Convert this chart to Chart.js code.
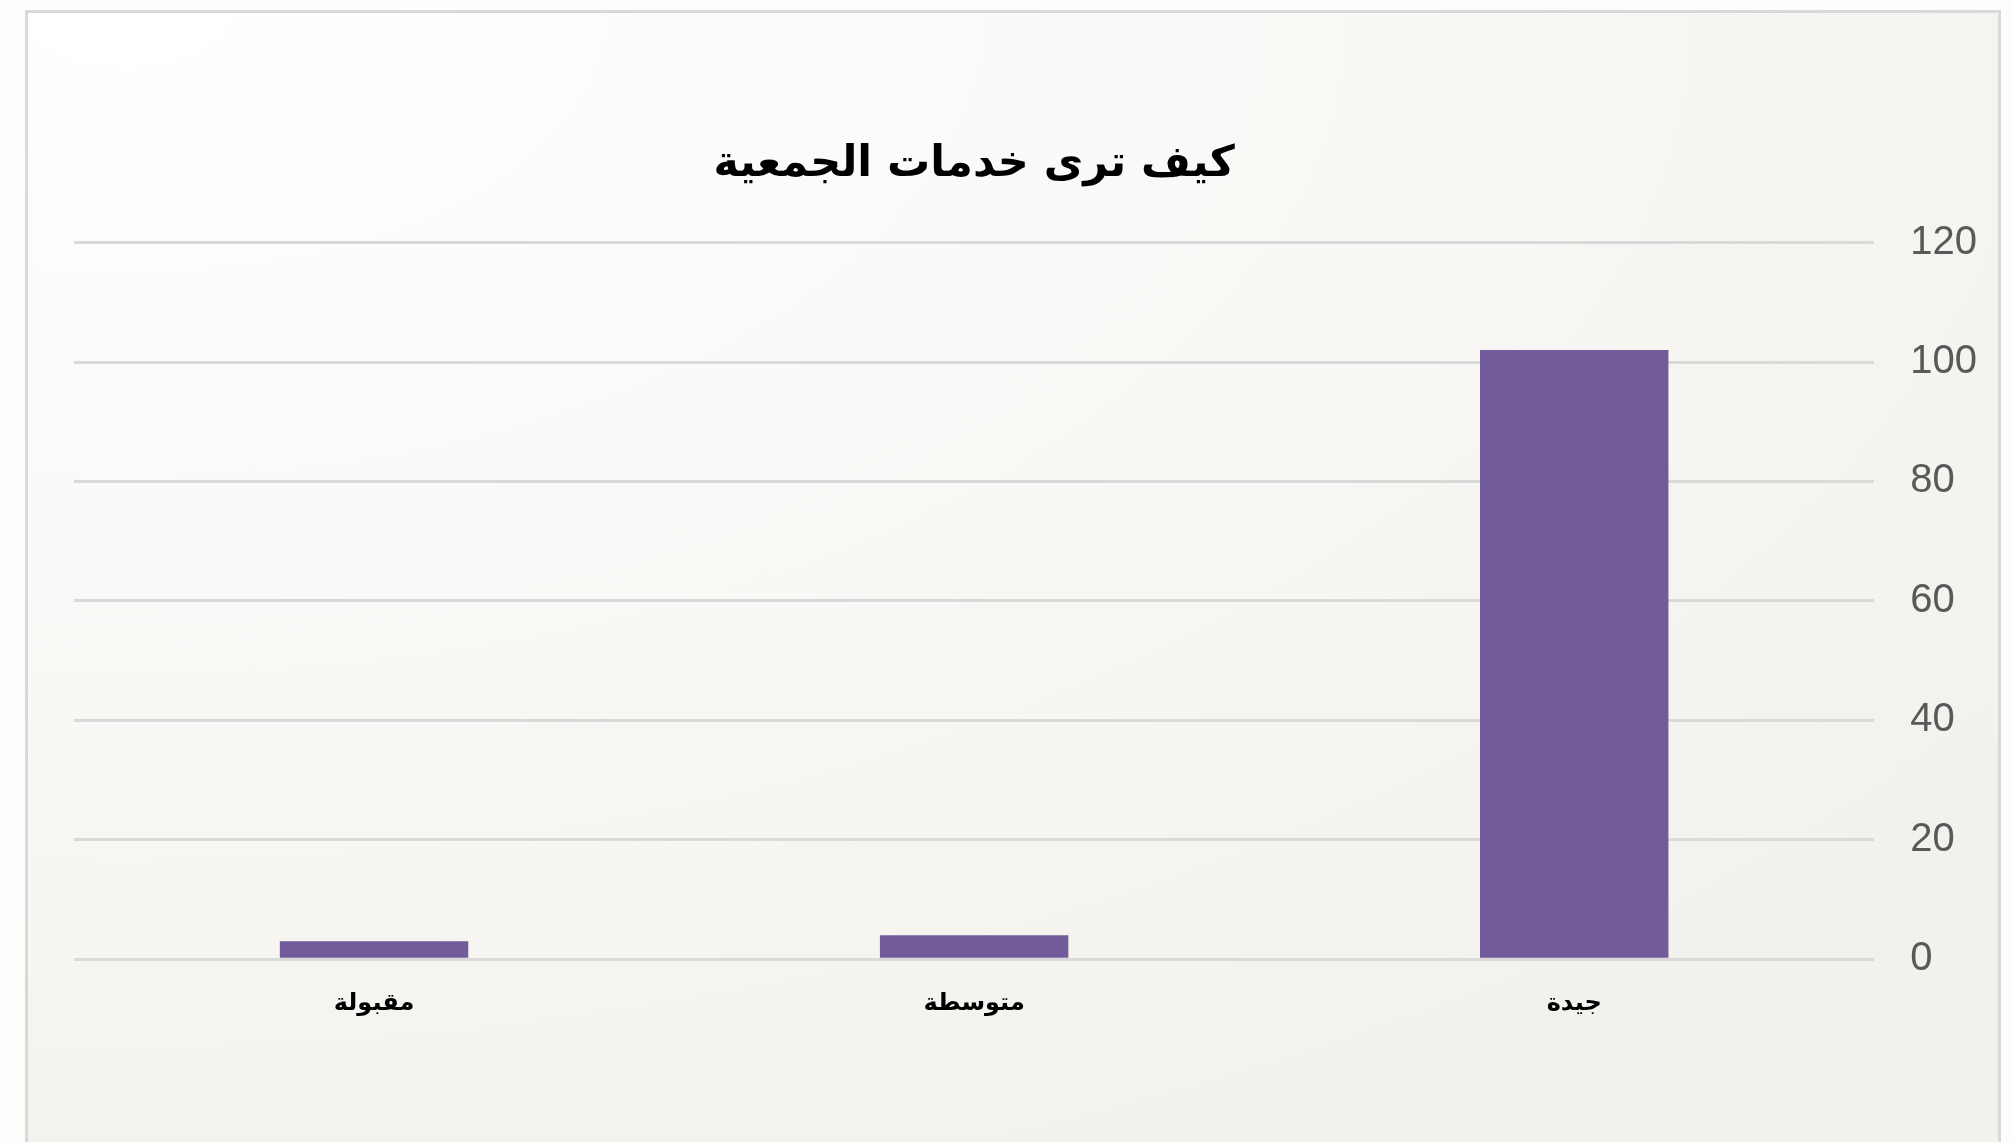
<!DOCTYPE html>
<html>
<head>
<meta charset="utf-8">
<script src="https://cdn.jsdelivr.net/npm/chart.js@4"></script>
<style>
  html, body { margin: 0; padding: 0; background: #fdfdfc; overflow: hidden; }
  #frame {
    position: absolute; left: 25px; top: 10px; width: 1970px; height: 1160px;
    border: 3px solid #d9d9d9;
    background: radial-gradient(ellipse 120% 110% at 5% 0%, #ffffff 0%, #faf9f7 45%, #f3f1ed 100%);
  }
  #wrap { position: absolute; left: 3px; top: 0px; width: 2002px; height: 1132px; }
</style>
</head>
<body>
<div id="frame"><div id="wrap"><canvas id="services"></canvas></div></div>
<script>
// categories and values (right-to-left order)
var categories = ['جيدة', 'متوسطة', 'مقبولة'];
var counts = [102, 4, 3];
var chartTitle = 'كيف ترى خدمات الجمعية';

Chart.defaults.font.family = "'Liberation Sans', Arial, sans-serif";

var chart = new Chart('services', {
  type: 'bar',
  data: {
    labels: categories,
    datasets: [{
      label: 'العدد',
      data: counts,
      backgroundColor: '#725b9b',
      borderWidth: 0,
      categoryPercentage: 1,
      barPercentage: 0.314
    }]
  },
  options: {
    responsive: true,
    maintainAspectRatio: false,
    animation: false,
    layout: { padding: { left: 43, right: 20, top: 126, bottom: 105 } },
    plugins: {
      legend: { display: false },
      tooltip: { enabled: false },
      title: {
        display: true,
        text: chartTitle,
        fullSize: false,
        color: '#000000',
        font: { family: "'DejaVu Sans', sans-serif", size: 43, weight: 'bold' },
        padding: { top: 0, bottom: 52 }
      }
    },
    scales: {
      x: {
        reverse: true,
        grid: { display: false },
        border: { display: false },
        ticks: {
          color: '#000000',
          padding: 22,
          font: { family: "'DejaVu Sans', sans-serif", size: 24, weight: 'bold' }
        }
      },
      y: {
        position: 'right',
        min: 0,
        max: 120,
        border: { display: false },
        grid: { color: '#d9d9d9', lineWidth: 3, drawTicks: false },
        ticks: {
          stepSize: 20,
          color: '#595959',
          padding: 36,
          font: { size: 40 }
        }
      }
    }
  }
});
</script>
</body>
</html>
